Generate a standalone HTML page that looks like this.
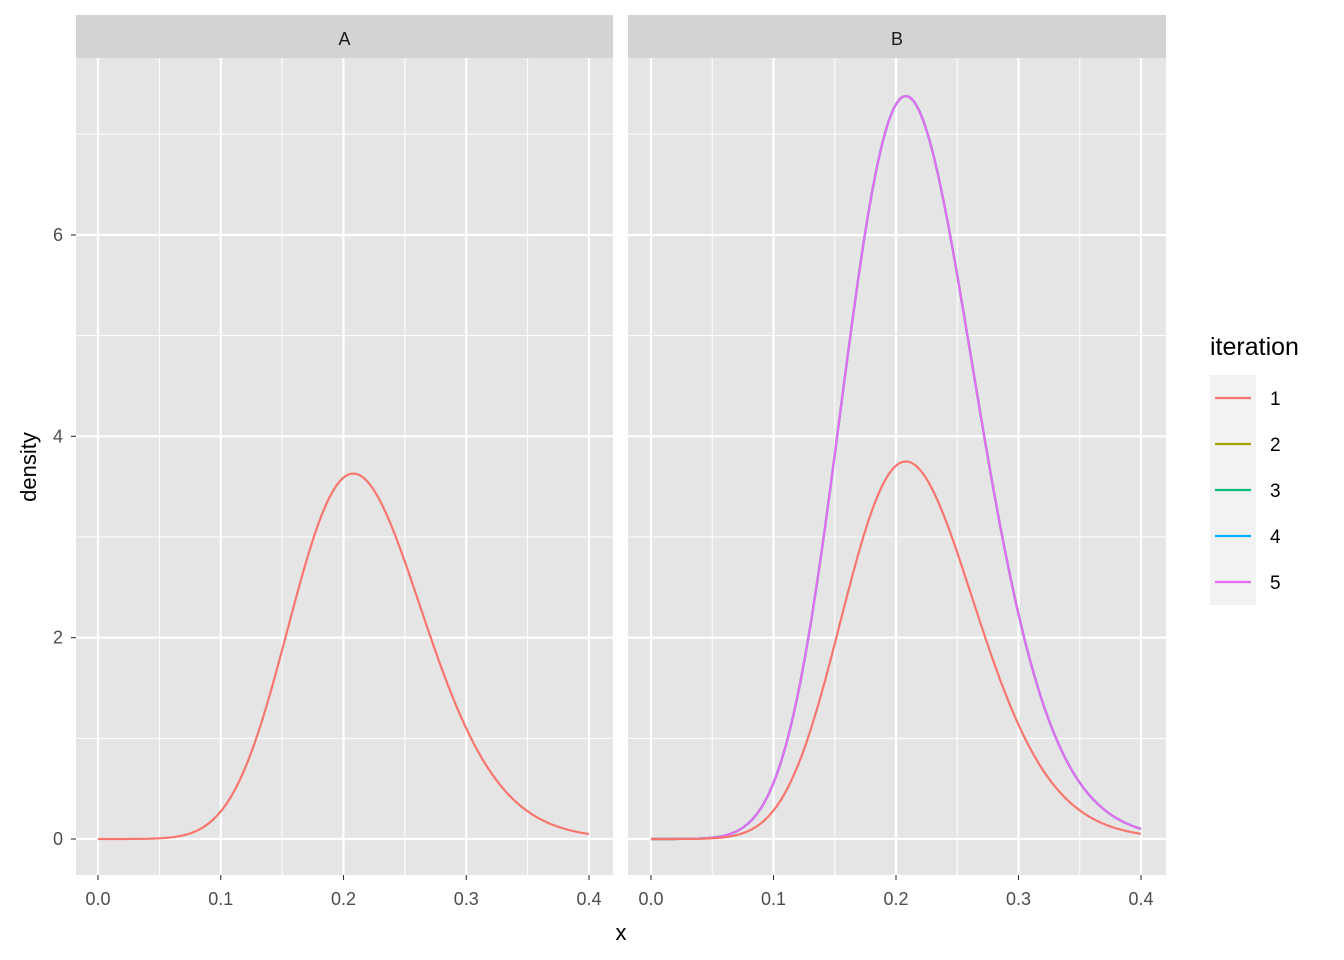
<!DOCTYPE html>
<html><head><meta charset="utf-8"><style>body{margin:0;background:#fff}svg{display:block}</style></head>
<body>
<svg id="s" width="1344" height="960" xmlns="http://www.w3.org/2000/svg" font-family="Liberation Sans, sans-serif">
</svg>
<script>
const s=document.getElementById('s');let h='';
const panels=[{x0:76,x1:613,ox:98,k:1227.5,lab:'A'},{x0:628,x1:1166,ox:651,k:1225,lab:'B'}];
const Y=v=>839-v*100.67;
function f(x,p){const d=x-0.208;const sd=0.054+0.06*d;return p*Math.exp(-0.5*(d/sd)*(d/sd));}
panels.forEach((P,i)=>{
 h+=`<rect x="${P.x0}" y="15" width="${P.x1-P.x0}" height="43" fill="#d3d3d3"/>`;
 h+=`<text x="${(P.x0+P.x1)/2}" y="45" font-size="18" fill="#1a1a1a" text-anchor="middle">${P.lab}</text>`;
 h+=`<rect x="${P.x0}" y="58" width="${P.x1-P.x0}" height="817" fill="#e5e5e5"/>`;
 for(let v=0.05;v<0.4;v+=0.1){const x=P.ox+v*P.k;h+=`<line x1="${x}" x2="${x}" y1="58" y2="875" stroke="#fff" stroke-width="1"/>`;}
 for(let v=1;v<=7;v+=2){h+=`<line x1="${P.x0}" x2="${P.x1}" y1="${Y(v)}" y2="${Y(v)}" stroke="#fff" stroke-width="1"/>`;}
 for(let j=0;j<=4;j++){const x=P.ox+j*0.1*P.k;h+=`<line x1="${x}" x2="${x}" y1="58" y2="875" stroke="#fff" stroke-width="2.2"/>`;
  h+=`<line x1="${x}" x2="${x}" y1="875" y2="880" stroke="#333" stroke-width="1.1"/>`;
  h+=`<text x="${x}" y="905" font-size="18" fill="#4d4d4d" text-anchor="middle">${(j/10).toFixed(1)}</text>`;}
 for(let v=0;v<=6;v+=2){h+=`<line x1="${P.x0}" x2="${P.x1}" y1="${Y(v)}" y2="${Y(v)}" stroke="#fff" stroke-width="2.2"/>`;}
 const curves=i==0?[[3.63,'#F8766D']]:[[7.38,'#A3A500'],[7.38,'#00BF7D'],[7.38,'#00B0F6'],[7.38,'#E76BF3'],[3.75,'#F8766D']];
 curves.forEach(c=>{let d='';for(let n=0;n<=400;n++){const x=n/1000;d+=(n?'L':'M')+(P.ox+x*P.k).toFixed(1)+','+Y(f(x,c[0])).toFixed(1);}
  h+=`<path d="${d}" fill="none" stroke="${c[1]}" stroke-width="2.2"/>`;});
});
for(let v=0;v<=6;v+=2){h+=`<line x1="71" x2="76" y1="${Y(v)}" y2="${Y(v)}" stroke="#333" stroke-width="1.1"/>`;
 h+=`<text x="63" y="${Y(v)+6}" font-size="18" fill="#4d4d4d" text-anchor="end">${v}</text>`;}
h+=`<text x="621" y="940" font-size="22" fill="#000" text-anchor="middle">x</text>`;
h+=`<text transform="translate(36,467) rotate(-90)" font-size="22" fill="#000" text-anchor="middle">density</text>`;
h+=`<text x="1210" y="355" font-size="25" fill="#000">iteration</text>`;
h+=`<rect x="1210" y="375" width="46" height="230" fill="#f2f2f2"/>`;
['#F8766D','#A3A500','#00BF7D','#00B0F6','#E76BF3'].forEach((c,j)=>{const y=398+j*46;
 h+=`<line x1="1215" x2="1251" y1="${y}" y2="${y}" stroke="${c}" stroke-width="2.2"/>`;
 h+=`<text x="1270" y="${y+7}" font-size="19" fill="#000">${j+1}</text>`;});
s.innerHTML=h;
</script>
</body></html>
